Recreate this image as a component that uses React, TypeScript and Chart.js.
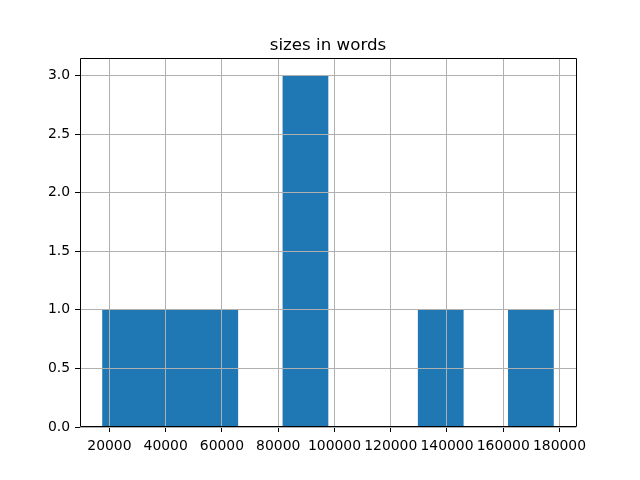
import React, { useEffect, useRef } from "react";
import { Chart, registerables } from "chart.js";

Chart.register(...registerables);

const chartTitle = "sizes in words";
// histogram bin edges (10 bins) and counts
const binEdges = [17550, 33580, 49610, 65640, 81670, 97700, 113730, 129760, 145790, 161820, 177850];
const counts = [1, 1, 1, 0, 3, 0, 0, 1, 0, 1];
const xTickValues = [20000, 40000, 60000, 80000, 100000, 120000, 140000, 160000, 180000];
const yTickValues = [0, 0.5, 1.0, 1.5, 2.0, 2.5, 3.0];
const yMax = 3.15;

const FONT = "'DejaVu Sans', sans-serif";

const mplOverlay = {
  id: "mplOverlay",
  afterDatasetsDraw(chart: any) {
    const { ctx, chartArea, scales } = chart;
    const { left, right, top, bottom } = chartArea;
    ctx.save();
    // grid lines drawn above the bars (matplotlib default)
    ctx.strokeStyle = "#b0b0b0";
    ctx.lineWidth = 1;
    scales.x.ticks.forEach((t: any) => {
      const px = Math.floor(scales.x.getPixelForValue(t.value)) + 0.5;
      ctx.beginPath();
      ctx.moveTo(px, top);
      ctx.lineTo(px, bottom);
      ctx.stroke();
    });
    scales.y.ticks.forEach((t: any) => {
      const py = Math.floor(scales.y.getPixelForValue(t.value)) + 0.5;
      ctx.beginPath();
      ctx.moveTo(left, py);
      ctx.lineTo(right, py);
      ctx.stroke();
    });
    // spines
    ctx.strokeStyle = "#000";
    ctx.lineWidth = 1;
    const l = Math.floor(left) + 0.5;
    const r = Math.floor(right) + 0.5;
    const t = Math.floor(top) + 0.5;
    const b = Math.floor(bottom) - 0.5;
    ctx.beginPath();
    ctx.moveTo(l, t);
    ctx.lineTo(r, t);
    ctx.lineTo(r, b);
    ctx.lineTo(l, b);
    ctx.closePath();
    ctx.stroke();
    // title
    ctx.fillStyle = "#000";
    ctx.font = `16.67px ${FONT}`;
    ctx.textAlign = "center";
    ctx.textBaseline = "alphabetic";
    ctx.fillText(chartTitle, (left + right) / 2, top - 8);
    ctx.restore();
  },
};

export default function App() {
  const ref = useRef<HTMLCanvasElement | null>(null);

  useEffect(() => {
    document.body.style.margin = "0";
    if (!ref.current) return;
    const data = counts.map((c, i) => ({ x: (binEdges[i] + binEdges[i + 1]) / 2, y: c }));
    const span = binEdges[binEdges.length - 1] - binEdges[0];
    const xMin = binEdges[0] - span * 0.05;
    const xMax = binEdges[binEdges.length - 1] + span * 0.05;

    const chart = new Chart(ref.current, {
      type: "bar",
      data: {
        datasets: [
          {
            data,
            backgroundColor: "#1f77b4",
            borderWidth: 0,
            barPercentage: 1,
            categoryPercentage: 1,
          },
        ],
      },
      options: {
        responsive: false,
        animation: false,
        devicePixelRatio: 1,
        layout: { padding: { top: 58, right: 64, left: 0, bottom: 0 } },
        plugins: {
          legend: { display: false },
          title: { display: false },
          tooltip: { enabled: false },
        },
        scales: {
          x: {
            type: "linear",
            min: xMin,
            max: xMax,
            offset: false,
            afterBuildTicks: (s: any) => {
              s.ticks = xTickValues.map((v) => ({ value: v }));
            },
            afterFit: (s: any) => {
              s.height = 53;
            },
            border: { display: false },
            grid: {
              drawOnChartArea: false,
              drawTicks: true,
              tickLength: 5,
              color: "#000",
              lineWidth: 1,
              offset: false,
            },
            ticks: {
              autoSkip: false,
              maxRotation: 0,
              padding: 6,
              color: "#000",
              font: { family: FONT, size: 13.9 },
              callback: (v: any) => String(v),
            },
          },
          y: {
            type: "linear",
            min: 0,
            max: yMax,
            afterBuildTicks: (s: any) => {
              s.ticks = yTickValues.map((v) => ({ value: v }));
            },
            afterFit: (s: any) => {
              s.width = 80;
            },
            border: { display: false },
            grid: {
              drawOnChartArea: false,
              drawTicks: true,
              tickLength: 5,
              color: "#000",
              lineWidth: 1,
            },
            ticks: {
              autoSkip: false,
              padding: 5,
              color: "#000",
              font: { family: FONT, size: 13.9 },
              callback: (v: any) => Number(v).toFixed(1),
            },
          },
        },
      },
      plugins: [mplOverlay],
    } as any);
    return () => chart.destroy();
  }, []);

  return (
    <div style={{ position: "absolute", left: 0, top: 0, width: 640, height: 480, background: "#fff" }}>
      <canvas ref={ref} width={640} height={480} />
    </div>
  );
}
